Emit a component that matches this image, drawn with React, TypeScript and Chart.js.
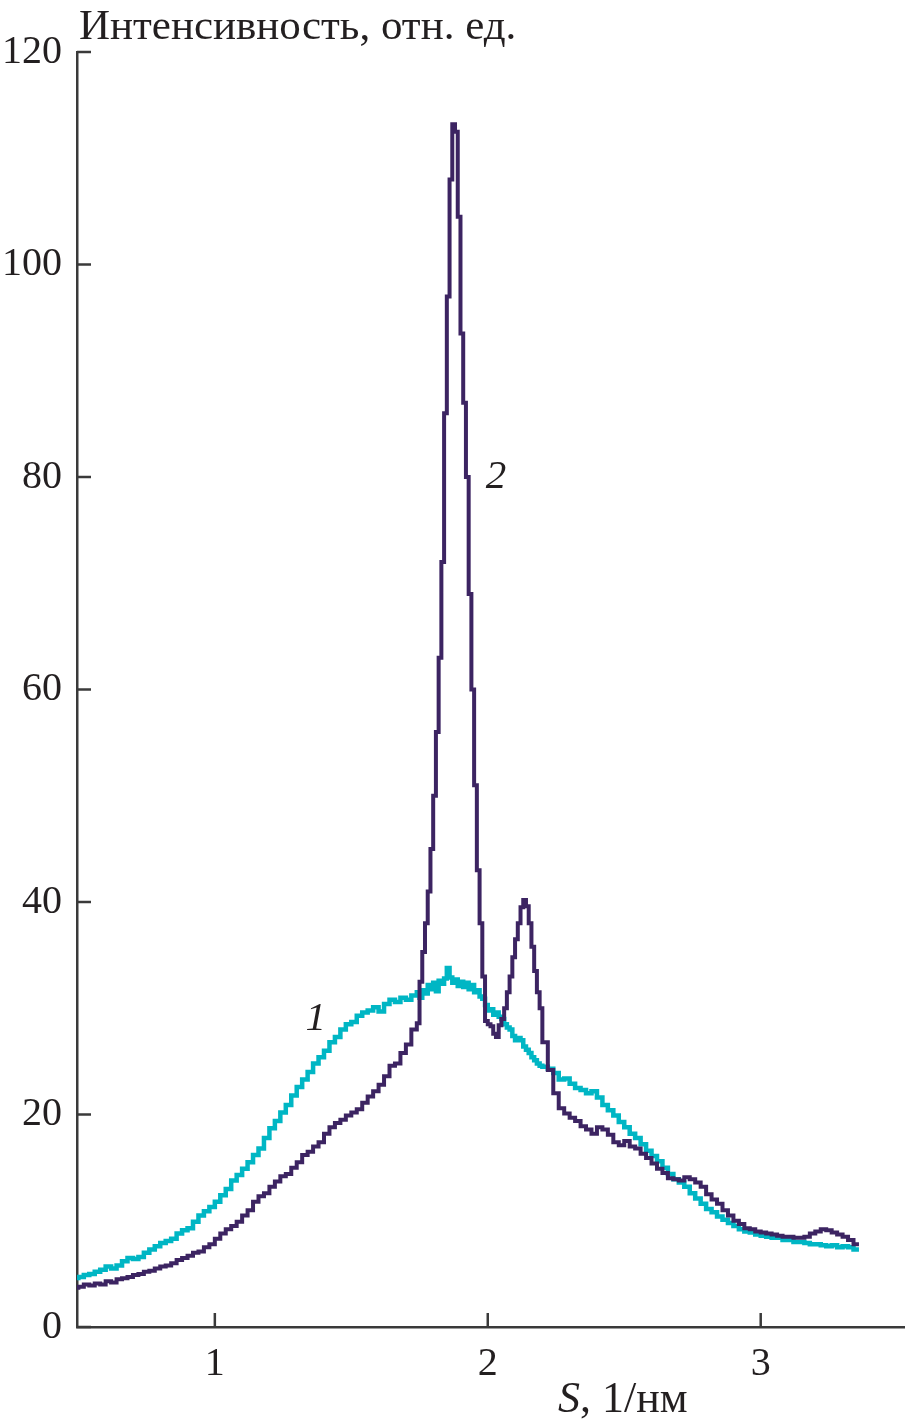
import { useEffect, useRef } from "react";
import { Chart, registerables } from "chart.js";

Chart.register(...registerables);

// S, 1/нм (scattering vector)
const sValues = [
  0.50, 0.52, 0.54, 0.56, 0.58, 0.60, 0.62, 0.64, 0.66, 0.68,
  0.70, 0.72, 0.74, 0.76, 0.78, 0.80, 0.82, 0.84, 0.86, 0.88,
  0.90, 0.92, 0.94, 0.96, 0.98, 1.00, 1.02, 1.04, 1.06, 1.08,
  1.10, 1.12, 1.14, 1.16, 1.18, 1.20, 1.22, 1.24, 1.26, 1.28,
  1.30, 1.32, 1.34, 1.36, 1.38, 1.40, 1.42, 1.44, 1.46, 1.48,
  1.50, 1.52, 1.54, 1.56, 1.58, 1.60, 1.62, 1.64, 1.66, 1.68,
  1.70, 1.72, 1.74,
  1.75, 1.76, 1.77, 1.78, 1.79, 1.80, 1.81, 1.82, 1.83, 1.84,
  1.85, 1.86, 1.87, 1.88, 1.89, 1.90, 1.91, 1.92, 1.93, 1.94,
  1.95, 1.96, 1.97, 1.98, 1.99, 2.00, 2.01, 2.02, 2.03, 2.04,
  2.05, 2.06, 2.07, 2.08, 2.09, 2.10, 2.11, 2.12, 2.13, 2.14,
  2.15, 2.16, 2.17, 2.18, 2.19, 2.20,
  2.22, 2.24, 2.26, 2.28, 2.30, 2.32, 2.34, 2.36, 2.38, 2.40,
  2.42, 2.44, 2.46, 2.48, 2.50, 2.52, 2.54, 2.56, 2.58, 2.60,
  2.62, 2.64, 2.66, 2.68, 2.70, 2.72, 2.74, 2.76, 2.78, 2.80,
  2.82, 2.84, 2.86, 2.88, 2.90, 2.92, 2.94, 2.96, 2.98, 3.00,
  3.02, 3.04, 3.06, 3.08, 3.10, 3.12, 3.14, 3.16, 3.18, 3.20,
  3.22, 3.24, 3.26, 3.28, 3.30, 3.32, 3.34, 3.36,
];

// Curve 1 (cyan)
const intensity1 = [
  4.4, 4.7, 4.9, 5.0, 5.2, 5.4, 5.7, 5.5, 5.8, 6.2,
  6.5, 6.4, 6.6, 7.0, 7.3, 7.6, 7.9, 8.1, 8.3, 8.8,
  9.1, 9.3, 9.9, 10.5, 10.9, 11.3, 11.8, 12.4, 13.0, 13.8,
  14.3, 14.9, 15.5, 16.2, 16.8, 17.8, 18.7, 19.4, 20.2, 20.9,
  21.8, 22.6, 23.3, 24.0, 24.8, 25.4, 26.0, 26.8, 27.3, 28.0,
  28.5, 28.7, 29.3, 29.6, 29.8, 30.1, 29.7, 30.4, 30.8, 30.6,
  31.0, 30.8, 31.2,
  31.5, 31.0, 31.7, 31.4, 32.2, 31.8, 32.4, 31.6, 32.6, 32.3,
  32.8, 33.8, 32.9, 32.4, 32.7, 32.1, 32.5, 32.0, 32.4, 31.8,
  32.2, 31.5, 31.7, 31.1, 30.9, 30.3, 29.8, 29.9, 29.4, 29.6,
  29.2, 29.0, 28.5, 28.2, 28.0, 27.4, 27.0, 27.2, 27.0, 26.4,
  26.1, 25.8, 25.4, 25.1, 24.8, 24.6,
  24.5, 24.3, 23.9, 23.3, 23.4, 22.9, 22.5, 22.3, 22.0, 22.2,
  21.6, 20.9, 20.4, 19.9, 19.3, 18.8, 18.2, 17.8, 17.2, 16.6,
  16.1, 15.6, 15.0, 14.4, 13.9, 13.6, 13.2, 12.6, 12.1, 11.6,
  11.1, 10.8, 10.4, 10.1, 9.8, 9.5, 9.2, 9.0, 8.9, 8.7,
  8.6, 8.5, 8.4, 8.4, 8.2, 8.2, 8.0, 8.0, 7.9, 7.8,
  7.8, 7.7, 7.6, 7.7, 7.5, 7.6, 7.5, 7.3,
];

// Curve 2 (dark violet)
const intensity2 = [
  3.5, 3.8, 4.0, 3.9, 4.1, 4.0, 4.3, 4.2, 4.5, 4.6,
  4.7, 4.9, 5.0, 5.2, 5.3, 5.5, 5.7, 5.8, 6.0, 6.3,
  6.5, 6.7, 7.0, 7.1, 7.5, 7.8, 8.3, 8.8, 9.2, 9.5,
  9.9, 10.5, 11.0, 11.8, 12.3, 12.6, 13.2, 13.7, 14.2, 14.4,
  15.0, 15.5, 16.2, 16.5, 17.0, 17.4, 18.2, 18.8, 19.2, 19.5,
  19.9, 20.2, 20.5, 21.1, 21.7, 22.2, 22.8, 23.6, 24.6, 24.8,
  25.8, 26.6, 28.0,
  28.6, 32.5, 35.3, 38.0, 41.0, 45.0, 50.0, 56.0, 63.0, 72.0,
  86.0, 97.0, 108.0, 113.2, 112.5, 104.5, 93.5, 87.0, 80.0, 69.0,
  60.0, 51.0, 43.0, 38.0, 33.0, 28.8, 28.5, 28.3, 27.6, 27.3,
  28.4, 29.0, 30.0, 31.5, 33.0, 34.8, 36.5, 38.0, 39.5, 40.2,
  39.6, 38.0, 35.8, 33.5, 31.5, 30.0,
  26.8, 24.2, 22.0, 20.6, 20.1, 19.7, 19.4, 18.9, 18.6, 18.2,
  18.8, 18.6, 18.1, 17.4, 17.1, 17.5, 17.0, 16.8, 16.3, 15.9,
  15.4, 14.9, 14.5, 14.0, 13.9, 13.8, 14.1, 13.9, 13.6, 13.2,
  12.5, 12.0, 11.6, 11.0, 10.5, 10.0, 9.7, 9.3, 9.2, 9.0,
  8.9, 8.8, 8.7, 8.6, 8.5, 8.5, 8.4, 8.4, 8.5, 8.8,
  9.0, 9.2, 9.1, 8.9, 8.7, 8.5, 8.2, 7.8,
];

const xTickValues = [1, 2, 3];
const yTickValues = [0, 20, 40, 60, 80, 100, 120];
const yTitle = "Интенсивность, отн. ед.";
const xTitleVar = "S";
const xTitleRest = ", 1/нм";
const curveLabelTexts = ["1", "2"];
const curveLabelS = [1.37, 2.03];
const curveLabelI = [29.0, 80.0];

const FONT = "'Liberation Serif', 'Times New Roman', serif";
const CYAN = "#00b6c4";
const DARK = "#3c2462";
const AXIS = "#3a3a3a";
const TEXT = "#231f20";

export default function App() {
  const ref = useRef<HTMLCanvasElement>(null);

  useEffect(() => {
    document.body.style.margin = "0";
    const canvas = ref.current;
    if (!canvas) return;

    const overlay = {
      id: "overlay",
      afterDraw(chart: any) {
        const ctx = chart.ctx;
        const xs = chart.scales.x;
        const ys = chart.scales.y;
        const { left, bottom } = chart.chartArea;
        ctx.save();
        ctx.strokeStyle = AXIS;
        ctx.lineWidth = 2.5;
        yTickValues.forEach((v) => {
          const py = ys.getPixelForValue(v);
          ctx.beginPath();
          ctx.moveTo(left, py);
          ctx.lineTo(left + 14, py);
          ctx.stroke();
        });
        xTickValues.forEach((v) => {
          const px = xs.getPixelForValue(v);
          ctx.beginPath();
          ctx.moveTo(px, bottom);
          ctx.lineTo(px, bottom - 14);
          ctx.stroke();
        });

        ctx.fillStyle = TEXT;
        ctx.textAlign = "left";
        ctx.textBaseline = "alphabetic";
        ctx.font = `43px ${FONT}`;
        ctx.fillText(yTitle, 79, 39);

        const sx = 558;
        const sy = 1412;
        ctx.font = `italic 44px ${FONT}`;
        ctx.fillText(xTitleVar, sx, sy);
        const w = ctx.measureText(xTitleVar).width;
        ctx.font = `44px ${FONT}`;
        ctx.fillText(xTitleRest, sx + w, sy);

        ctx.font = `italic 41px ${FONT}`;
        ctx.textAlign = "center";
        ctx.textBaseline = "middle";
        curveLabelTexts.forEach((t, i) => {
          ctx.fillText(t, xs.getPixelForValue(curveLabelS[i]), ys.getPixelForValue(curveLabelI[i]));
        });
        ctx.restore();
      },
    };

    const chart = new Chart(canvas, {
      type: "line",
      data: {
        datasets: [
          {
            label: "2",
            data: sValues.map((s, i) => ({ x: s, y: intensity2[i] })),
            borderColor: DARK,
            borderWidth: 4,
            pointRadius: 0,
            stepped: "after",
            fill: false,
          },
          {
            label: "1",
            data: sValues.map((s, i) => ({ x: s, y: intensity1[i] })),
            borderColor: CYAN,
            borderWidth: 4.5,
            pointRadius: 0,
            stepped: "after",
            fill: false,
          },
        ],
      },
      options: {
        responsive: false,
        maintainAspectRatio: false,
        animation: false,
        layout: { padding: { top: 52, right: 5, left: 0, bottom: 0 } },
        plugins: {
          legend: { display: false },
          tooltip: { enabled: false },
        },
        scales: {
          x: {
            type: "linear",
            min: 0.495,
            max: 3.525,
            afterBuildTicks: (scale: any) => {
              scale.ticks = xTickValues.map((v) => ({ value: v }));
            },
            afterFit: (scale: any) => {
              scale.height = 100;
            },
            grid: { display: false, drawTicks: false },
            border: { display: true, color: AXIS, width: 2.5 },
            ticks: {
              color: TEXT,
              padding: 13,
              font: { family: FONT, size: 40 },
              maxRotation: 0,
              autoSkip: false,
            },
          },
          y: {
            type: "linear",
            min: 0,
            max: 120,
            afterBuildTicks: (scale: any) => {
              scale.ticks = yTickValues.map((v) => ({ value: v }));
            },
            afterFit: (scale: any) => {
              scale.width = 77;
            },
            grid: { display: false, drawTicks: false },
            border: { display: true, color: AXIS, width: 2.5 },
            ticks: {
              color: TEXT,
              padding: 15,
              font: { family: FONT, size: 40 },
              autoSkip: false,
            },
          },
        },
      },
      plugins: [overlay],
    });

    return () => chart.destroy();
  }, []);

  return (
    <div style={{ width: 909, height: 1427 }}>
      <canvas ref={ref} width={909} height={1427} style={{ display: "block" }} />
    </div>
  );
}
